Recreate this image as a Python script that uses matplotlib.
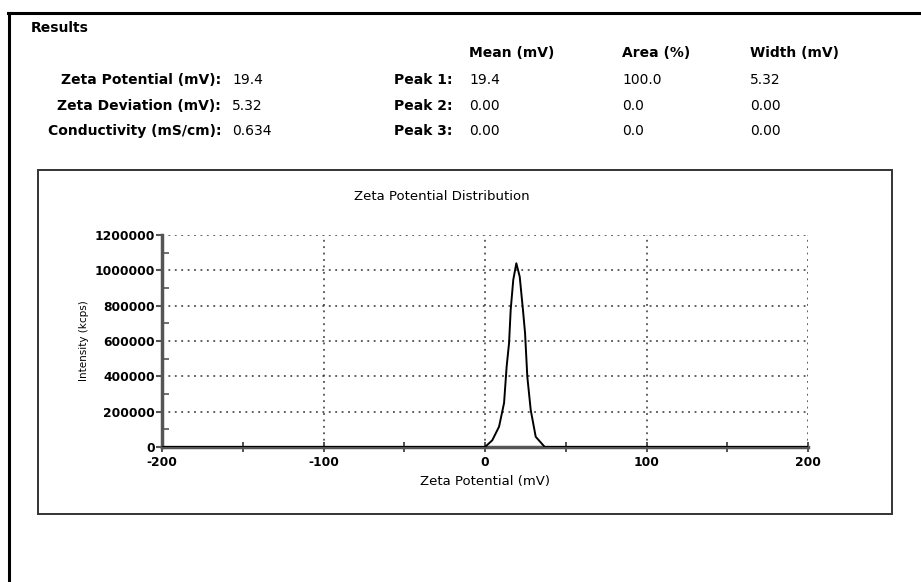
import matplotlib
matplotlib.use("Agg")
import matplotlib.pyplot as plt
from matplotlib.lines import Line2D
from matplotlib.patches import Rectangle
from matplotlib.ticker import MultipleLocator, FixedLocator

plt.rcParams['font.family'] = ['DejaVu Sans']

# ---- data ----
zeta_mv = [-200, 0, 4.5, 8.7, 11.8, 13.4, 14.9, 15.9, 17.5, 19.4, 21.5, 23.5,
           24.8, 26.2, 28.3, 31.4, 37.0, 200]
intensity_kcps = [0, 0, 38000, 115000, 249000, 455000, 589000, 776000, 946000,
                  1040000, 964000, 776000, 645000, 398000, 210000, 58000, 0, 0]

summary_labels = ["Zeta Potential (mV):", "Zeta Deviation (mV):", "Conductivity (mS/cm):"]
summary_values = ["19.4", "5.32", "0.634"]
peak_labels = ["Peak 1:", "Peak 2:", "Peak 3:"]
col_headers = ["Mean (mV)", "Area (%)", "Width (mV)"]
mean_values = ["19.4", "0.00", "0.00"]
area_values = ["100.0", "0.0", "0.0"]
width_values = ["5.32", "0.00", "0.00"]

x_ticks = [-200, -100, 0, 100, 200]
y_ticks = [0, 200000, 400000, 600000, 800000, 1000000, 1200000]

W, H = 921, 582
fig = plt.figure(figsize=(W / 100, H / 100), dpi=100)


def fx(px):
    return px / W


def fy(py):
    return 1 - py / H


# outer frame lines
fig.add_artist(Line2D([fx(8), fx(921)], [fy(13), fy(13)], color='black', lw=2.2))
fig.add_artist(Line2D([fx(9), fx(9)], [fy(13), fy(582)], color='black', lw=2.2))

# inner chart box
fig.add_artist(Rectangle((fx(38), fy(514)), fx(892) - fx(38), fy(170) - fy(514),
                         fill=False, edgecolor='#333333', lw=1.4))

# header text
HF = 10
fig.text(fx(31), fy(28), "Results", fontsize=HF, fontweight='bold', va='center', ha='left')
rows_y = [80, 106, 131]
for lab, val, pk, m, a, w, yy in zip(summary_labels, summary_values, peak_labels,
                                      mean_values, area_values, width_values, rows_y):
    fig.text(fx(221), fy(yy), lab, fontsize=HF, fontweight='bold', ha='right', va='center')
    fig.text(fx(232), fy(yy), val, fontsize=HF, ha='left', va='center')
    fig.text(fx(452), fy(yy), pk, fontsize=HF, fontweight='bold', ha='right', va='center')
    fig.text(fx(469), fy(yy), m, fontsize=HF, ha='left', va='center')
    fig.text(fx(622), fy(yy), a, fontsize=HF, ha='left', va='center')
    fig.text(fx(750), fy(yy), w, fontsize=HF, ha='left', va='center')
for hdr, xx in zip(col_headers, [469, 622, 750]):
    fig.text(fx(xx), fy(53), hdr, fontsize=HF, fontweight='bold', ha='left', va='center')

# chart title
fig.text(fx(442), fy(197), "Zeta Potential Distribution", fontsize=9.5, ha='center', va='center')

# axes
ax = fig.add_axes([fx(162), fy(447), fx(808) - fx(162), fy(235) - fy(447)])
ax.plot(zeta_mv, intensity_kcps, color='black', lw=1.4, zorder=3)
ax.set_xlim(-200, 200)
ax.set_ylim(0, 1200000)
ax.set_xticks(x_ticks)
ax.set_yticks(y_ticks)
ax.set_xticklabels([str(v) for v in x_ticks], fontsize=8.8, fontweight='bold')
ax.set_yticklabels([str(v) for v in y_ticks], fontsize=8.8, fontweight='bold')
ax.xaxis.set_minor_locator(FixedLocator([-150, -50, 50, 150]))
ax.yaxis.set_minor_locator(MultipleLocator(100000))
ax.tick_params(axis='y', which='major', direction='out', length=4, width=1.5,
               color='#555555', pad=1)
ax.tick_params(axis='y', which='minor', direction='in', length=5, width=1.2, color='#555555')
ax.tick_params(axis='x', which='both', direction='inout', length=7, width=1.2,
               color='#333333', pad=3)
for s in ['top', 'right']:
    ax.spines[s].set_visible(False)
for s in ['left', 'bottom']:
    ax.spines[s].set_color('#555555')
    ax.spines[s].set_linewidth(2.5)
ax.grid(True, which='major', color='#333333', linestyle=(0, (1.2, 3)), lw=1.1)
ax.set_axisbelow(True)
ax.set_xlabel("Zeta Potential (mV)", fontsize=9.5, labelpad=4)
ax.set_ylabel("Intensity (kcps)", fontsize=7.5, labelpad=4)
ax.set_facecolor('none')

fig.savefig("out.png", dpi=100)
